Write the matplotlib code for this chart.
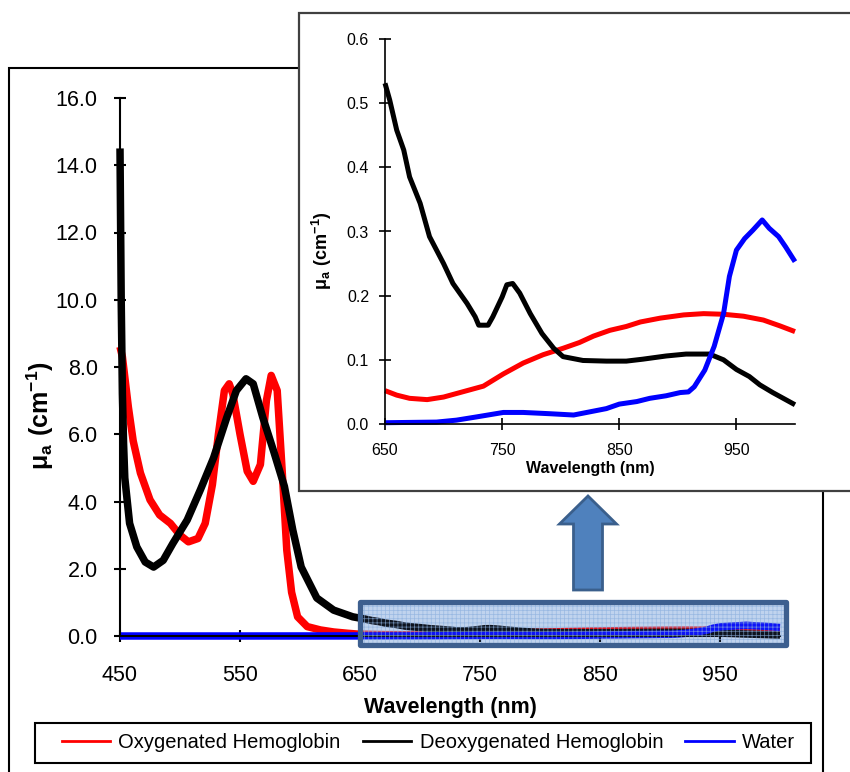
#Absorption spectra of oxy/deoxy hemoglobin and water, with NIR zoom inset

import numpy as np
import matplotlib
matplotlib.use('Agg')
import matplotlib.pyplot as plt
import matplotlib.patches as mpatches
from matplotlib.lines import Line2D

plt.rcParams['font.family'] = ['Liberation Sans', 'DejaVu Sans']
plt.rcParams['mathtext.fontset'] = 'custom'
plt.rcParams['mathtext.bf'] = 'Liberation Sans:bold'
plt.rcParams['mathtext.rm'] = 'Liberation Sans'
plt.rcParams['hatch.linewidth'] = 0.5

#Data (wavelength in nm, mu_a in 1/cm)
hbo2_wl = [450, 452, 457, 461, 467, 475, 483, 492, 500, 507, 515, 521, 527, 532, 537,
           541, 544, 550, 556, 561, 567, 572, 576, 581, 585, 589, 593, 598, 606, 617,
           628, 640, 650, 660, 671, 686, 700, 714, 734, 751, 768, 785, 802, 816, 828,
           842, 856, 868, 885, 905, 922, 939, 956, 973, 987, 1000]
hbo2 = [8.6, 8.3, 6.8, 5.8, 4.85, 4.05, 3.6, 3.35, 3.0, 2.8, 2.9, 3.35, 4.5, 6.0, 7.3,
        7.5, 7.2, 6.0, 4.9, 4.6, 5.1, 7.0, 7.75, 7.3, 5.0, 2.55, 1.3, 0.57, 0.28, 0.18,
        0.12, 0.08, 0.052, 0.045, 0.040, 0.038, 0.042, 0.049, 0.059, 0.078, 0.095, 0.108, 0.118, 0.127, 0.137,
        0.146, 0.152, 0.159, 0.165, 0.170, 0.172, 0.171, 0.168, 0.162, 0.153, 0.144]

hb_wl = [450, 451, 452, 453, 454, 458, 464, 471, 478, 486, 494, 506, 517, 528, 539,
         547, 555, 561, 569, 578, 587, 594, 601, 614, 628, 644, 650, 654, 660, 666,
         671, 680, 688, 700, 708, 720, 727, 730, 738, 742, 750, 754, 759, 765, 774,
         784, 794, 802, 819, 839, 856, 870, 890, 907, 927, 939, 950, 961, 970, 981,
         990, 1000]
hb = [14.5, 10.0, 7.2, 5.7, 4.7, 3.35, 2.65, 2.2, 2.05, 2.25, 2.75, 3.45, 4.35, 5.3, 6.5,
      7.3, 7.65, 7.5, 6.5, 5.5, 4.45, 3.15, 2.05, 1.13, 0.77, 0.57, 0.531, 0.505, 0.458, 0.427,
      0.385, 0.344, 0.292, 0.250, 0.219, 0.188, 0.167, 0.154, 0.154, 0.167, 0.198, 0.217, 0.219, 0.204, 0.172,
      0.141, 0.118, 0.105, 0.099, 0.098, 0.098, 0.101, 0.106, 0.109, 0.109, 0.100, 0.085, 0.074, 0.061, 0.049,
      0.040, 0.030]

water_wl = [450, 550, 650, 694, 711, 728, 751, 768, 791, 811, 825, 839, 850, 865, 876,
            890, 902, 909, 914, 923, 931, 939, 944, 950, 957, 964, 972, 978, 986, 992, 1000]
water = [0.0, 0.0, 0.002, 0.003, 0.006, 0.011, 0.018, 0.018, 0.016, 0.014, 0.019, 0.024, 0.031, 0.035, 0.040,
         0.044, 0.049, 0.050, 0.058, 0.084, 0.121, 0.172, 0.230, 0.271, 0.289, 0.302, 0.318, 0.305, 0.292, 0.276, 0.253]

labels = ['Oxygenated Hemoglobin', 'Deoxygenated Hemoglobin', 'Water']
colors = ['#FF0000', '#000000', '#0000FF']
series = [(hbo2_wl, hbo2), (hb_wl, hb), (water_wl, water)]

W, H = 850, 772
fig = plt.figure(figsize=(W/100, H/100), dpi=100)

#outer frame of main chart
fig.add_artist(mpatches.Rectangle((9/W, -0.02), (823-9)/W, 1-68/H+0.02, transform=fig.transFigure,
                                  fill=False, ec='black', lw=1.5, zorder=0.5))

#---- main axes ----
ax = fig.add_axes([120/W, 1-636/H, 660/W, (636-98)/H])
for (x, y), c in zip(series, colors):
    ax.plot(x, y, color=c, lw=5.4, clip_on=False, solid_capstyle='butt', solid_joinstyle='round',
            zorder=2)
ax.set_xlim(450, 1000)
ax.set_ylim(0, 16)
ax.set_xticks([450, 550, 650, 750, 850, 950])
ax.set_yticks(np.arange(0, 16.1, 2.0))
ax.set_yticklabels(['%.1f' % v for v in np.arange(0, 16.1, 2.0)])
for s in ['top', 'right']:
    ax.spines[s].set_visible(False)
for s in ['left', 'bottom']:
    ax.spines[s].set_linewidth(1.5)
ax.tick_params(direction='inout', length=8, width=1.5, labelsize=15.5)
ax.tick_params(axis='x', pad=17)
ax.tick_params(axis='y', pad=12)
ax.set_xlabel('Wavelength (nm)', fontsize=15.5, fontweight='bold', labelpad=8)
ax.set_ylabel(r'$\mathbf{\mu_{a}\ (cm^{-1})}$', fontsize=18)
ax.yaxis.set_label_coords(-0.097, 0.41)
ax.patch.set_visible(False)

#highlighted NIR region: light fill under the curves, grid and tint over them
hl = dict(xy=(650, -0.28), width=355, height=1.28, clip_on=False)
ax.add_patch(mpatches.Rectangle(**hl, facecolor='#D3E2F5', lw=0, zorder=1))
ax.add_patch(mpatches.Rectangle(**hl, facecolor=(0.35, 0.5, 0.8, 0.15),
                                edgecolor=(0.55, 0.69, 0.87, 0.75),
                                hatch='++++', lw=0, zorder=3))
ax.add_patch(mpatches.Rectangle(**hl, fill=False, edgecolor='#3D5F8F',
                                lw=3.8, zorder=4, joinstyle='round'))

#arrow pointing to the inset
fig.add_artist(mpatches.FancyArrow(588/W, 1-590/H, 0, 94/H, width=29/W, head_width=57/W,
                                   head_length=28/H, length_includes_head=True,
                                   transform=fig.transFigure, fc='#4F81BD', ec='#3A5F8C',
                                   lw=2, zorder=3))

#---- inset ----
fig.add_artist(mpatches.Rectangle((299/W, 1-491/H), 1.0, (491-13)/H, transform=fig.transFigure,
                                  fc='white', ec='#404040', lw=1.6, zorder=1))
axi = fig.add_axes([385/W, 1-424/H, 410/W, (424-39)/H], zorder=2)
for (x, y), c in zip(series, colors):
    x = np.array(x)
    y = np.array(y)
    m = x >= 650
    axi.plot(x[m], y[m], color=c, lw=3.6, clip_on=False, solid_capstyle='butt')
axi.set_xlim(650, 1000)
axi.set_ylim(0, 0.6)
axi.set_xticks([650, 750, 850, 950])
axi.set_yticks(np.arange(0, 0.61, 0.1))
axi.set_yticklabels(['%.1f' % v for v in np.arange(0, 0.61, 0.1)])
for s in ['top', 'right']:
    axi.spines[s].set_visible(False)
for s in ['left', 'bottom']:
    axi.spines[s].set_linewidth(1.2)
axi.tick_params(direction='inout', length=9, width=1.2, labelsize=11.5)
axi.tick_params(axis='x', pad=9)
axi.tick_params(axis='y', pad=7)
axi.set_xlabel('Wavelength (nm)', fontsize=11.5, fontweight='bold', labelpad=2)
axi.set_ylabel(r'$\mathbf{\mu_{a}\ (cm^{-1})}$', fontsize=13)
axi.yaxis.set_label_coords(-0.125, 0.45)
axi.patch.set_visible(False)

#---- legend ----
fig.add_artist(mpatches.Rectangle((35/W, 1-763/H), 776/W, 40/H, transform=fig.transFigure,
                                  fc='white', ec='black', lw=1.5, zorder=3))
handles = [Line2D([], [], color=c, lw=2) for c in colors]
leg = fig.legend(handles, labels, loc='center', ncol=3, mode='expand',
                 bbox_to_anchor=(55/W, 1-763/H, 747/W, 40/H), fontsize=14.5,
                 frameon=False, borderaxespad=0, handlelength=2.4, handletextpad=0.4,
                 borderpad=0.35, columnspacing=1.0)
leg.set_zorder(4)

fig.savefig('out.png', dpi=100)
